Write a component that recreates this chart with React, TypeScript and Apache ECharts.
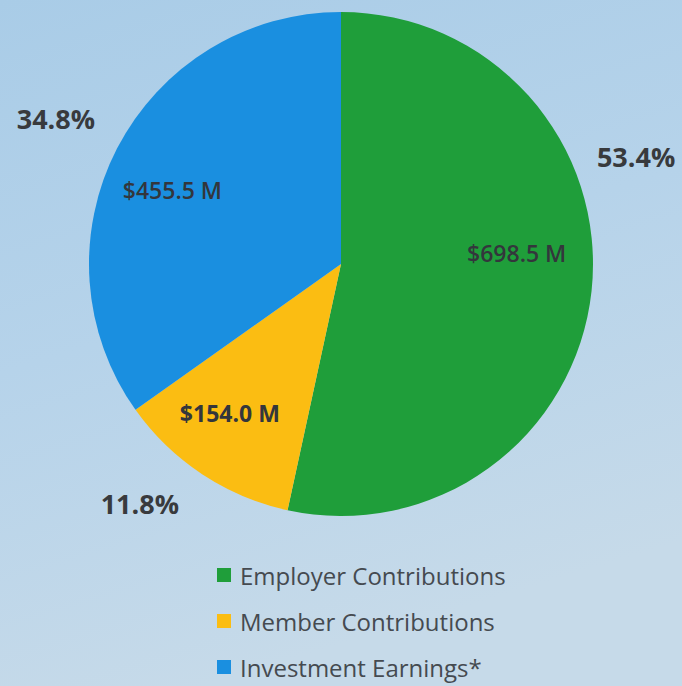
import React, { useEffect, useRef } from "react";
import * as echarts from "echarts";

const categories = ["Employer Contributions", "Member Contributions", "Investment Earnings*"];
const valuesM = [698.5, 154.0, 455.5];
const percentLabels = ["53.4%", "11.8%", "34.8%"];
const valueLabels = ["$698.5 M", "$154.0 M", "$455.5 M"];

const COLORS = ["#1f9e3a", "#fbbd12", "#1a8fe0"];
const CX = 341;
const CY = 264;
const R = 252;
// polar placement (angle clockwise from 12 o'clock, radius) for labels
const PCT_POS: [number, number][] = [
  [70, 314],
  [220, 313],
  [297, 320],
];
const VAL_POS: [number, number][] = [
  [86.4, 176],
  [216.7, 186],
  [293.6, 184],
];
const FONT = "'Open Sans', 'Noto Sans', sans-serif";

const polar = (pos: [number, number]) => {
  const rad = (pos[0] * Math.PI) / 180;
  return { x: CX + pos[1] * Math.sin(rad), y: CY - pos[1] * Math.cos(rad) };
};

export default function App() {
  const ref = useRef<HTMLDivElement>(null);
  useEffect(() => {
    document.body.style.margin = "0";
    const chart = echarts.init(ref.current!, null, { renderer: "svg" });
    chart.setOption({
      animation: false,
      backgroundColor: {
        type: "linear",
        x: 0,
        y: 0,
        x2: 0.3,
        y2: 1,
        colorStops: [
          { offset: 0, color: "#a9cce7" },
          { offset: 0.5, color: "#b6d3ea" },
          { offset: 1, color: "#c6dae9" },
        ],
      },
      legend: {
        orient: "vertical",
        left: 217,
        top: 562,
        padding: 0,
        itemWidth: 14,
        itemHeight: 14,
        itemGap: 20,
        icon: "rect",
        data: categories,
        textStyle: {
          fontFamily: FONT,
          fontSize: 24,
          lineHeight: 26,
          color: "#454a50",
          padding: [0, 0, 0, 4],
        },
      },
      series: [
        {
          type: "pie",
          center: [CX, CY],
          radius: R,
          startAngle: 90,
          clockwise: true,
          silent: true,
          data: categories.map((name, i) => ({
            name,
            value: valuesM[i],
            itemStyle: { color: COLORS[i] },
          })),
          label: {
            show: true,
            position: "inside",
            formatter: (p: any) => percentLabels[p.dataIndex],
            fontFamily: FONT,
            fontSize: 27,
            fontWeight: "bold",
            color: "#383a3d",
          },
          labelLine: { show: false },
          labelLayout: (p: any) => ({
            ...polar(PCT_POS[p.dataIndex]),
            align: "center",
            verticalAlign: "middle",
          }),
        },
        {
          type: "pie",
          center: [CX, CY],
          radius: R,
          startAngle: 90,
          clockwise: true,
          silent: true,
          legendHoverLink: false,
          data: categories.map((name, i) => ({
            name,
            value: valuesM[i],
            itemStyle: { color: "rgba(0,0,0,0)" },
            label: { fontWeight: i === 1 ? "bold" : 600 },
          })),
          label: {
            show: true,
            position: "inside",
            formatter: (p: any) => valueLabels[p.dataIndex],
            fontFamily: FONT,
            fontSize: 23,
            color: "#33363c",
          },
          labelLine: { show: false },
          labelLayout: (p: any) => ({
            ...polar(VAL_POS[p.dataIndex]),
            align: "center",
            verticalAlign: "middle",
          }),
        },
      ],
    });
    return () => chart.dispose();
  }, []);
  return (
    <div
      ref={ref}
      style={{ position: "fixed", left: 0, top: 0, width: 682, height: 686 }}
    />
  );
}
